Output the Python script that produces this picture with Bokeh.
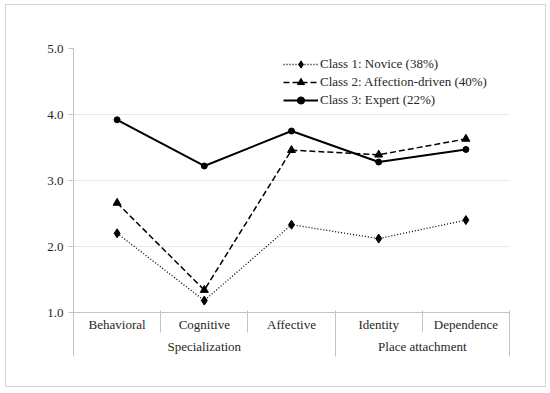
from bokeh.plotting import figure
from bokeh.models import (FactorRange, Range1d, FixedTicker, Legend, LegendItem, NumeralTickFormatter,
                          LinearAxis, CategoricalAxis)
from bokeh.embed import file_html
from bokeh.resources import INLINE

groups = ["Specialization", "Specialization", "Specialization", "Place attachment", "Place attachment"]
dims = ["Behavioral", "Cognitive", "Affective", "Identity", "Dependence"]
novice = [2.20, 1.18, 2.33, 2.12, 2.40]
affection = [2.66, 1.34, 3.46, 3.39, 3.63]
expert = [3.92, 3.22, 3.75, 3.28, 3.47]
y_ticks = [1.0, 2.0, 3.0, 4.0, 5.0]
group_edges = [0, 3, 5]
item_edges = [1, 2, 4]
labels = ["Class 1: Novice (38%)", "Class 2: Affection-driven (40%)", "Class 3: Expert (22%)"]

factors = list(zip(groups, dims))
FONT = "Liberation Serif"
TXT = "#262626"
GRAY = "#c4c4c4"
CAT_H = 46  # height of the category axis band

p = figure(width=539, height=381, x_range=FactorRange(*factors, group_padding=0, factor_padding=0, range_padding=0),
           y_range=Range1d(1, 5), output_backend="svg", toolbar_location=None, x_axis_location=None,
           min_border_left=67, min_border_right=38, min_border_top=43, min_border_bottom=76)
p.margin = (4, 4, 6, 5)
p.styles = {"border": "1px solid #d4d4d4", "box-sizing": "content-box"}
p.outline_line_color = None
p.xgrid.grid_line_color = None
p.ygrid.grid_line_color = "#e8e8e8"
p.yaxis.ticker = FixedTicker(ticks=y_ticks)
p.yaxis.formatter = NumeralTickFormatter(format="0.0")
p.yaxis.minor_tick_line_color = None
p.yaxis.major_tick_in = 0
p.yaxis.major_tick_out = 5
p.yaxis.axis_line_color = GRAY
p.yaxis.major_tick_line_color = GRAY
p.yaxis.major_label_standoff = 5
p.yaxis.major_label_text_font = FONT
p.yaxis.major_label_text_font_size = "13px"
p.yaxis.major_label_text_color = TXT

cat_axis = CategoricalAxis(axis_line_color=GRAY, major_tick_line_color=None, minor_tick_line_color=None,
                           major_tick_out=0, major_tick_in=0, major_label_standoff=4,
                           separator_line_color=None,
                           major_label_text_font=FONT, major_label_text_font_size="13px",
                           major_label_text_color=TXT,
                           group_text_font=FONT, group_text_font_size="13px", group_text_color=TXT,
                           group_text_font_style="normal")
p.add_layout(cat_axis, "below")

# separator axis below the category band: boundaries (synthetic factor coordinates) as ticks pointing up
sep_axis = LinearAxis(ticker=FixedTicker(ticks=group_edges, minor_ticks=item_edges),
                      major_tick_in=CAT_H, major_tick_out=0, minor_tick_in=CAT_H, minor_tick_out=22 - CAT_H,
                      axis_line_color=None, major_tick_line_color=GRAY, minor_tick_line_color=GRAY,
                      major_label_overrides={0: "", 3: "", 5: ""}, major_label_standoff=0)
p.add_layout(sep_axis, "below")

r1l = p.line(factors, novice, line_color="black", line_width=1.3, line_dash="1 2")
r1m = p.scatter(factors, novice, marker="diamond", size=9, color="black")
r2l = p.line(factors, affection, line_color="black", line_width=1.5, line_dash="6 3")
r2m = p.scatter(factors, affection, marker="triangle", size=8, color="black")
r3l = p.line(factors, expert, line_color="black", line_width=2)
r3m = p.scatter(factors, expert, marker="circle", size=6, color="black")

legend = Legend(items=[LegendItem(label=labels[0], renderers=[r1l, r1m]),
                       LegendItem(label=labels[1], renderers=[r2l, r2m]),
                       LegendItem(label=labels[2], renderers=[r3l, r3m])],
                location=(210, 203), padding=0, margin=0, spacing=0, glyph_width=35, glyph_height=18,
                label_standoff=2, label_text_font=FONT, label_text_font_size="13px", label_text_color=TXT,
                border_line_color=None, background_fill_alpha=0, label_height=18)
p.add_layout(legend, "center")

open("out.html", "w").write(file_html(p, INLINE))
